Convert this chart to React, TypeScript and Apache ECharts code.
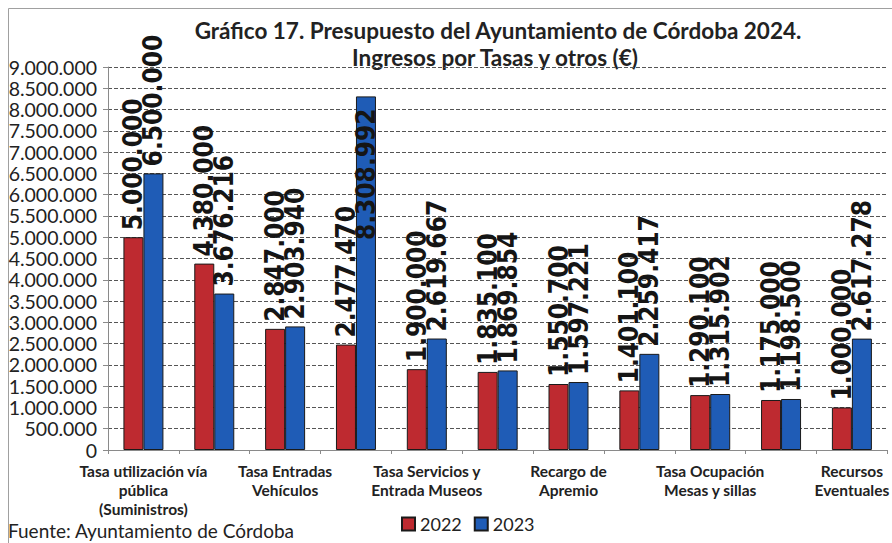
import React, { useEffect, useRef } from "react";
import * as echarts from "echarts";

const categories = [
  "Tasa utilización vía\npública\n(Suministros)",
  "Tasa Licencias\nUrbanísticas",
  "Tasa Entradas\nVehículos",
  "Tasa Recogida\nResiduos",
  "Tasa Servicios y\nEntrada Museos",
  "Tasa Expedición\nDocumentos",
  "Recargo de\nApremio",
  "Tasa Retirada\nVehículos",
  "Tasa Ocupación\nMesas y sillas",
  "Tasa Cementerios\nMunicipales",
  "Recursos\nEventuales",
];
const values2022 = [5000000, 4380000, 2847000, 2477470, 1900000, 1835100, 1550700, 1401100, 1290100, 1175000, 1000000];
const values2023 = [6500000, 3676216, 2903940, 8308992, 2619667, 1869854, 1597221, 2259417, 1315902, 1198500, 2617278];
const seriesNames = ["2022", "2023"];
const yTicks = { min: 0, max: 9000000, interval: 500000 };
const titleLines = [
  "Gráfico 17. Presupuesto del Ayuntamiento de Córdoba 2024.",
  "Ingresos por Tasas y otros (€)",
];
const sourceText = "Fuente: Ayuntamiento de Córdoba";

const fmt = (v: number) => String(Math.round(v)).replace(/\B(?=(\d{3})+(?!\d))/g, ".");

export default function App() {
  const ref = useRef<HTMLDivElement>(null);
  useEffect(() => {
    if (!ref.current) return;
    const chart = echarts.init(ref.current, undefined, { renderer: "svg" });
    const labelBase = {
      show: true,
      position: "top",
      rotate: 90,
      align: "left",
      verticalAlign: "middle",
      distance: 7,
      fontFamily: "DejaVu Sans Condensed",
      fontWeight: "bold",
      fontSize: 26,
      color: "#151515",
      formatter: (p: any) => fmt(p.value),
    };
    const maxVal = Math.max(...values2022, ...values2023);
    const mkData = (arr: number[]) =>
      arr.map((v) =>
        v === maxVal
          ? { value: v, label: { position: "insideTop", align: "right", distance: 12 } }
          : v
      );
    chart.setOption({
      animation: false,
      backgroundColor: "#ffffff",
      graphic: [
        {
          type: "rect",
          shape: { x: 8.5, y: 8.5, width: 900, height: 600 },
          style: { fill: "none", stroke: "#a0a0a0", lineWidth: 1 },
          silent: true,
        },
        {
          type: "text",
          x: 498,
          y: 30,
          style: {
            text: titleLines[0],
            fontFamily: "Lato",
            fontWeight: "bold",
            fontSize: 22.5,
            fill: "#222",
            textAlign: "center",
            textVerticalAlign: "middle",
          },
        },
        {
          type: "text",
          x: 495,
          y: 57,
          style: {
            text: titleLines[1],
            fontFamily: "Lato",
            fontWeight: "bold",
            fontSize: 22.5,
            fill: "#222",
            textAlign: "center",
            textVerticalAlign: "middle",
          },
        },
        {
          type: "text",
          x: 8,
          y: 530,
          style: {
            text: sourceText,
            fontFamily: "Lato",
            fontSize: 19,
            fill: "#222",
            textAlign: "left",
            textVerticalAlign: "middle",
          },
        },
      ],
      legend: {
        data: seriesNames,
        left: 396,
        top: 510,
        itemWidth: 13,
        itemHeight: 13,
        itemGap: 12,
        icon: "rect",
        textStyle: { fontFamily: "Lato", fontSize: 18, color: "#222" },
      },
      grid: { left: 108, top: 67, bottom: 93, width: 786 },
      xAxis: {
        type: "category",
        data: categories,
        axisLine: { lineStyle: { color: "#8a8a8a", width: 1 } },
        axisTick: { show: true, interval: 0, length: 4, lineStyle: { color: "#8a8a8a" } },
        axisLabel: {
          interval: 1,
          margin: 11,
          fontFamily: "Lato",
          fontWeight: "bold",
          fontSize: 15.5,
          lineHeight: 19,
          color: "#222",
        },
      },
      yAxis: {
        type: "value",
        min: yTicks.min,
        max: yTicks.max,
        interval: yTicks.interval,
        axisLine: { show: true, lineStyle: { color: "#8a8a8a", width: 1 } },
        axisTick: { show: true, length: 5, lineStyle: { color: "#8a8a8a" } },
        axisLabel: {
          margin: 11,
          fontFamily: "Lato",
          fontSize: 19.5,
          lineHeight: 20,
          color: "#222",
          formatter: (v: number) => fmt(v),
        },
        splitLine: { show: true, lineStyle: { color: "#555", type: [4, 2], width: 1 } },
      },
      series: [
        {
          name: seriesNames[0],
          type: "bar",
          data: mkData(values2022),
          barWidth: 20,
          barGap: "0%",
          itemStyle: { color: "#BE2A30", borderColor: "#1a1a1a", borderWidth: 1 },
          label: labelBase,
        },
        {
          name: seriesNames[1],
          type: "bar",
          data: mkData(values2023),
          barWidth: 20,
          barGap: "0%",
          itemStyle: { color: "#1F5CB6", borderColor: "#1a1a1a", borderWidth: 1 },
          label: labelBase,
        },
      ],
    });
    return () => chart.dispose();
  }, []);
  return (
    <div
      ref={ref}
      style={{ position: "fixed", left: 0, top: 0, width: 892, height: 543 }}
    />
  );
}
